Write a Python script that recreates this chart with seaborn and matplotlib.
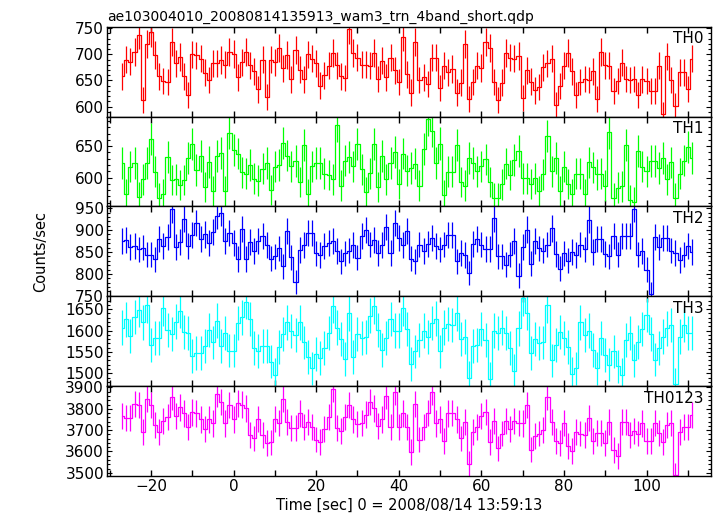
import numpy as np
import matplotlib
matplotlib.use("Agg")
import matplotlib.pyplot as plt
from matplotlib.ticker import MultipleLocator
import seaborn as sns

sns.set_style("ticks", {"axes.edgecolor": "black", "xtick.color": "black", "ytick.color": "black",
                        "text.color": "black", "axes.labelcolor": "black"})
plt.rcParams["font.family"] = ["DejaVu Sans"]

# 1 s bins, first bin centred at t = -27 s
t_start = -27

th0 = [658, 690, 686, 704, 738, 613, 719, 742, 699, 658, 649, 647, 723, 683, 695, 658, 623, 700, 698, 692,
       665, 651, 683, 683, 689, 680, 704, 701, 656, 685, 705, 679, 668, 633, 690, 619, 690, 685, 713, 673,
       699, 652, 708, 671, 652, 700, 692, 683, 640, 660, 678, 703, 679, 658, 655, 748, 703, 694, 680, 680,
       678, 702, 653, 688, 656, 694, 670, 647,
       733, 662, 627, 724, 651, 656, 643, 694, 694, 635, 678, 666, 672, 627, 646, 720, 615, 647, 678, 674,
       724, 712, 647, 613, 646, 703, 694, 692, 697, 617, 670, 648, 631, 637, 675, 683, 692, 604, 639, 678,
       703, 668, 622, 647, 653, 651, 668, 615, 704, 679, 678, 630, 649, 684, 653, 651, 653, 622, 652, 649,
       630, 630, 678, 585, 696, 651, 602, 666, 666, 634, 692]

th1 = [623, 573, 617, 623, 569, 597, 623, 661, 609, 568, 574, 633, 596, 597, 588, 596, 631, 653, 612, 634,
       585, 625, 579, 634, 639, 578, 671, 644, 638, 608, 606, 620, 598, 595, 614, 623, 580, 617, 620, 655,
       635, 618, 626, 593, 652, 574, 618, 623, 623, 606, 604, 597, 683, 587, 627, 633, 618, 653, 613, 577,
       607, 653, 585, 634, 597, 623, 641, 590,
       638, 611, 615, 622, 587, 646, 693, 674, 623, 654, 572, 609, 609, 651, 593, 587, 631, 623, 610, 618,
       629, 593, 567, 567, 589, 622, 604, 628, 642, 599, 599, 590, 599, 579, 605, 666, 610, 631, 579, 617,
       590, 573, 606, 606, 573, 624, 616, 605, 606, 587, 672, 568, 584, 586, 652, 564, 561, 642, 617, 610,
       626, 626, 615, 631, 597, 624, 568, 606, 627, 648, 631]

th2 = [875, 877, 861, 863, 856, 860, 844, 844, 833, 880, 863, 884, 948, 861, 873, 925, 863, 889, 916, 880,
       890, 871, 896, 932, 940, 876, 893, 870, 834, 903, 834, 873, 852, 876, 886, 866, 835, 840, 858, 817,
       898, 838, 781, 854, 866, 893, 893, 847, 843, 863, 871, 875, 852, 829, 847, 853, 866, 837, 886, 900,
       867, 877, 848, 866, 907, 848, 916, 881,
       866, 898, 835, 829, 867, 852, 869, 881, 863, 856, 867, 889, 889, 829, 848, 843, 802, 869, 879, 867,
       857, 857, 927, 840, 840, 821, 844, 876, 796, 861, 901, 823, 875, 858, 853, 867, 904, 846, 812, 847,
       830, 850, 843, 867, 856, 924, 850, 879, 879, 846, 840, 886, 844, 886, 886, 886, 949, 844, 852, 810,
       754, 884, 861, 883, 883, 853, 848, 832, 844, 863, 850]

th3 = [1607, 1626, 1587, 1632, 1649, 1619, 1659, 1566, 1582, 1583, 1652, 1601, 1591, 1621, 1646, 1597, 1594,
       1541, 1547, 1547, 1563, 1601, 1572, 1623, 1564, 1595, 1553, 1553, 1617, 1631, 1667, 1627, 1559, 1552,
       1564, 1564, 1527, 1497, 1561, 1592, 1619, 1599, 1590, 1619, 1572, 1538, 1512, 1545, 1536, 1559, 1594,
       1658, 1607, 1580, 1533, 1640, 1538, 1591, 1583, 1584, 1635, 1657, 1601, 1555, 1582, 1627, 1600,
       1600, 1652, 1603, 1522, 1551, 1577, 1600, 1585, 1617, 1628, 1551, 1607, 1615, 1613, 1640, 1580, 1586,
       1489, 1564, 1566, 1603, 1577, 1487, 1600, 1594, 1607, 1595, 1559, 1506, 1605, 1675, 1641, 1547, 1580,
       1570, 1572, 1659, 1530, 1566, 1597, 1582, 1561, 1499, 1512, 1619, 1590, 1600, 1555, 1512, 1582, 1543,
       1520, 1551, 1516, 1497, 1578, 1595, 1530, 1574, 1604, 1636, 1592, 1532, 1559, 1586, 1605, 1613, 1475,
       1586, 1613, 1594, 1594]

th0123 = [3767, 3755, 3755, 3822, 3817, 3692, 3845, 3817, 3723, 3692, 3744, 3763, 3856, 3766, 3806, 3778,
          3713, 3783, 3778, 3750, 3705, 3750, 3731, 3869, 3833, 3731, 3817, 3750, 3825, 3820, 3802, 3677,
          3661, 3752, 3677, 3638, 3642, 3752, 3734, 3848, 3736, 3708, 3708, 3778, 3716, 3739, 3713, 3656,
          3645, 3703, 3763, 3892, 3708, 3695, 3763, 3817, 3750, 3727, 3734, 3773, 3833, 3802, 3719, 3750,
          3859, 3716, 3880, 3716,
          3778, 3716, 3598, 3822, 3656, 3716, 3781, 3880, 3731, 3750, 3650, 3778, 3781, 3750, 3661, 3739,
          3541, 3692, 3713, 3766, 3786, 3645, 3744, 3614, 3684, 3744, 3703, 3744, 3734, 3731, 3817, 3609,
          3672, 3684, 3700, 3856, 3739, 3648, 3638, 3734, 3625, 3603, 3689, 3684, 3677, 3755, 3648, 3687,
          3687, 3638, 3737, 3606, 3580, 3739, 3739, 3677, 3697, 3684, 3731, 3650, 3648, 3734, 3687, 3645,
          3723, 3734, 3489, 3692, 3716, 3716, 3770]

bands = ["TH0", "TH1", "TH2", "TH3", "TH0123"]
series = [th0, th1, th2, th3, th0123]
colors = ["#ff0000", "#00ff00", "#0000ff", "#00ffff", "#ff00ff"]
ylims = [(581, 753), (554, 697), (749, 954), (1470, 1680), (3485, 3906)]
major_step = [50, 50, 50, 50, 100]
minor_step = [10, 10, 10, 10, 20]

fig, axes = plt.subplots(5, 1, sharex=True, figsize=(7.17, 5.16), dpi=100)
fig.subplots_adjust(left=0.149, right=0.9916, bottom=0.0775, top=0.9483, hspace=0)

for ax, name, vals, col, ylim, mj, mn in zip(axes, bands, series, colors, ylims, major_step, minor_step):
    vals = np.asarray(vals, dtype=float)
    t = np.arange(len(vals)) + t_start
    err = np.sqrt(vals)  # counting errors for 1 s bins
    sns.lineplot(x=t, y=vals, ax=ax, color=col, lw=0.9, drawstyle="steps-mid",
                 estimator=None, sort=False)
    ax.errorbar(t, vals, yerr=err, fmt="none", ecolor=col, elinewidth=0.9)
    ax.set_ylim(*ylim)
    ax.yaxis.set_major_locator(MultipleLocator(mj))
    ax.yaxis.set_minor_locator(MultipleLocator(mn))
    ax.xaxis.set_major_locator(MultipleLocator(20))
    ax.xaxis.set_minor_locator(MultipleLocator(10))
    ax.tick_params(which="both", direction="in", top=True, right=True, labelsize=11, pad=2,
                   colors="black")
    ax.tick_params(axis="y", which="major", length=3.5, width=0.8)
    ax.tick_params(axis="y", which="minor", length=2, width=0.8)
    ax.tick_params(axis="x", which="both", length=4.5, width=1.0)
    ax.set_ylabel("")
    for sp in ax.spines.values():
        sp.set_linewidth(1.0)
        sp.set_color("black")
    ax.text(0.988, 0.95, name, transform=ax.transAxes, ha="right", va="top", fontsize=11, color="black")

axes[-1].set_xlim(-30.7, 115.6)
axes[-1].set_xlabel("Time [sec] 0 = 2008/08/14 13:59:13", fontsize=10.5, labelpad=3, color="black")
axes[0].set_title("ae103004010_20080814135913_wam3_trn_4band_short.qdp", loc="left", fontsize=10, pad=4,
                  color="black")
fig.text(0.056, 0.513, "Counts/sec", rotation=90, ha="center", va="center", fontsize=10.5, color="black")

plt.savefig("out.png", dpi=100)
plt.close()
